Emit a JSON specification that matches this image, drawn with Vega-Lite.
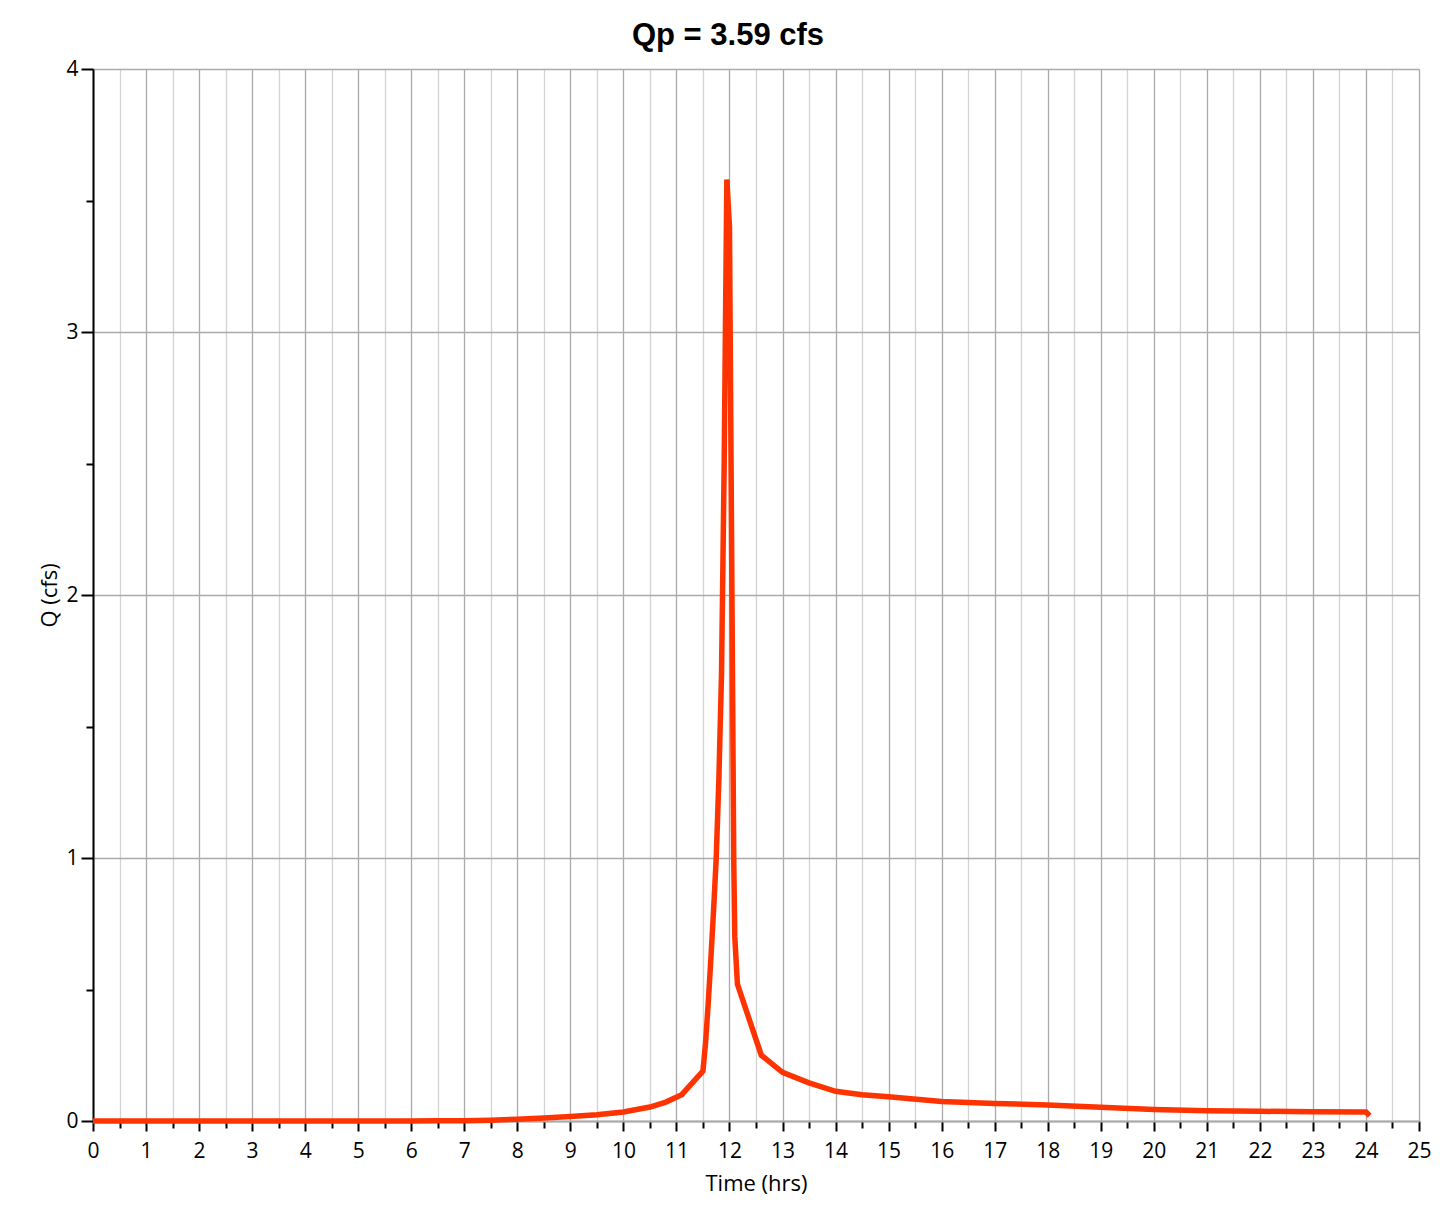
{
  "$schema": "https://vega.github.io/schema/vega-lite/v6.json",
  "autosize": "none",
  "width": 1326,
  "height": 1052,
  "padding": {"left": 93, "top": 69, "right": 33, "bottom": 97},
  "background": "white",
  "title": {
    "text": "Qp = 3.59 cfs",
    "font": "Liberation Sans",
    "fontSize": 31,
    "fontWeight": "bold",
    "color": "black",
    "anchor": "middle",
    "dx": -28,
    "offset": 6
  },
  "data": {
    "values": [
      {"t": 0, "q": 0}, {"t": 1, "q": 0}, {"t": 2, "q": 0}, {"t": 3, "q": 0},
      {"t": 4, "q": 0}, {"t": 5, "q": 0}, {"t": 6, "q": 0}, {"t": 6.5, "q": 0.0005},
      {"t": 7, "q": 0.001}, {"t": 7.5, "q": 0.003}, {"t": 8, "q": 0.007},
      {"t": 8.5, "q": 0.011}, {"t": 9, "q": 0.017}, {"t": 9.5, "q": 0.024},
      {"t": 10, "q": 0.034}, {"t": 10.5, "q": 0.053}, {"t": 10.8, "q": 0.072},
      {"t": 11.1, "q": 0.1}, {"t": 11.5, "q": 0.19}, {"t": 11.55, "q": 0.3},
      {"t": 11.6, "q": 0.45}, {"t": 11.65, "q": 0.62}, {"t": 11.7, "q": 0.8},
      {"t": 11.75, "q": 1.0}, {"t": 11.8, "q": 1.3}, {"t": 11.85, "q": 1.7},
      {"t": 11.9, "q": 2.5}, {"t": 11.95, "q": 3.58}, {"t": 12.0, "q": 3.4},
      {"t": 12.03, "q": 2.5}, {"t": 12.06, "q": 1.6}, {"t": 12.08, "q": 1.0},
      {"t": 12.1, "q": 0.7}, {"t": 12.15, "q": 0.52}, {"t": 12.6, "q": 0.25},
      {"t": 13.0, "q": 0.185}, {"t": 13.5, "q": 0.145}, {"t": 14.0, "q": 0.113},
      {"t": 14.5, "q": 0.1}, {"t": 15.0, "q": 0.092}, {"t": 16.0, "q": 0.074},
      {"t": 17.0, "q": 0.067}, {"t": 18.0, "q": 0.061}, {"t": 19.0, "q": 0.052},
      {"t": 20.0, "q": 0.044}, {"t": 21.0, "q": 0.039}, {"t": 22.0, "q": 0.037},
      {"t": 23.0, "q": 0.035}, {"t": 24.0, "q": 0.034}, {"t": 24.07, "q": 0.02}
    ]
  },
  "mark": {"type": "line", "color": "#FF3300", "strokeWidth": 5.5, "clip": false},
  "encoding": {
    "x": {
      "field": "t",
      "type": "quantitative",
      "scale": {"domain": [0, 25], "nice": false, "zero": false},
      "axis": {
        "title": "Time (hrs)",
        "values": [0,0.5,1,1.5,2,2.5,3,3.5,4,4.5,5,5.5,6,6.5,7,7.5,8,8.5,9,9.5,10,10.5,11,11.5,12,12.5,13,13.5,14,14.5,15,15.5,16,16.5,17,17.5,18,18.5,19,19.5,20,20.5,21,21.5,22,22.5,23,23.5,24,24.5,25],
        "labelExpr": "datum.value % 1 === 0 ? format(datum.value, 'd') : ''",
        "labelOverlap": false,
        "labelFlush": false,
        "labelFont": "Open Sans",
        "labelFontSize": 21,
        "labelColor": "black",
        "labelPadding": 9,
        "grid": true,
        "gridColor": {"condition": {"test": "datum.value % 1 === 0", "value": "#aaaaaa"}, "value": "#d3d3d3"},
        "gridWidth": 1.3,
        "gridOpacity": 1,
        "domainColor": "#aaaaaa",
        "domainWidth": 2,
        "tickColor": "black",
        "tickWidth": 2,
        "tickSize": {"condition": {"test": "datum.value % 1 === 0", "value": 10}, "value": 7},
        "titleFont": "Open Sans",
        "titleFontSize": 22,
        "titleFontWeight": "normal",
        "titleColor": "black",
        "titlePadding": 12
      }
    },
    "y": {
      "field": "q",
      "type": "quantitative",
      "scale": {"domain": [0, 4], "nice": false},
      "axis": {
        "title": "Q (cfs)",
        "values": [0,0.5,1,1.5,2,2.5,3,3.5,4],
        "labelExpr": "datum.value % 1 === 0 ? format(datum.value, 'd') : ''",
        "labelOverlap": false,
        "labelFlush": false,
        "labelFont": "Open Sans",
        "labelFontSize": 21,
        "labelColor": "black",
        "labelPadding": 3,
        "grid": true,
        "gridColor": "#aaaaaa",
        "gridWidth": 1.3,
        "gridOpacity": {"condition": {"test": "datum.value % 1 === 0", "value": 1}, "value": 0},
        "domainColor": "black",
        "domainWidth": 2,
        "tickColor": "black",
        "tickWidth": 2,
        "tickSize": {"condition": {"test": "datum.value % 1 === 0", "value": 12}, "value": 7},
        "titleFont": "Open Sans",
        "titleFontSize": 22,
        "titleFontWeight": "normal",
        "titleColor": "black",
        "titlePadding": 4
      }
    }
  },
  "config": {"view": {"stroke": null}}
}
